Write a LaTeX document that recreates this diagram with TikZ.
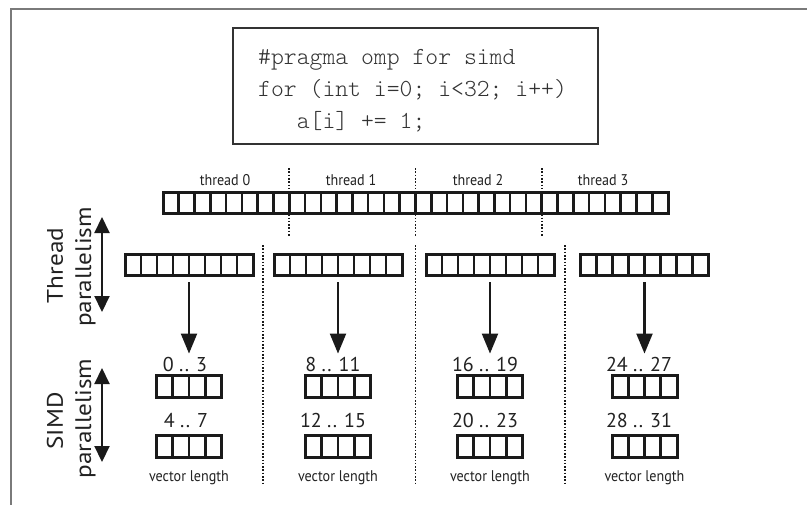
\documentclass[tikz,border=0pt]{standalone}
\usepackage{fontspec}
\setmainfont{PT Sans}
\newfontfamily\labfont[FakeStretch=0.91]{PT Sans}
\newfontfamily\sidefont[FakeStretch=1.12]{PT Sans}
\newfontfamily\codefont{lmmonolt10-regular.otf}
\usetikzlibrary{arrows.meta,calc}
\definecolor{ink}{HTML}{1A1A1A}
\definecolor{txt}{HTML}{222222}
\definecolor{framec}{HTML}{7A7A7A}
\definecolor{codec}{HTML}{333333}
\tikzset{
  arr/.style={draw=ink, line width=3pt, rectangle, inner sep=0pt, outer sep=0pt, minimum height=21pt},
  cellline/.style={draw=ink, line width=2.6pt},
  codebox/.style={draw=codec, line width=1.5pt, rectangle, minimum width=365pt, minimum height=116pt, inner sep=0pt},
  codeline/.style={anchor=base west, inner sep=0pt, text=codec, font=\codefont\fontsize{24.5}{28}\selectfont},
  thlab/.style={anchor=base, inner sep=0pt, text=txt, font=\labfont\fontsize{15.5}{18}\selectfont},
  numlab/.style={anchor=base, inner sep=3pt, text=txt, font=\fontsize{20}{24}\selectfont},
  veclab/.style={anchor=base, inner sep=0pt, text=txt, font=\labfont\fontsize{15.5}{18}\selectfont},
  sidelab/.style={anchor=base, rotate=90, inner sep=0pt, text=txt, font=\sidefont\fontsize{22.5}{26}\selectfont},
  sepline/.style={draw=ink, line width=1.9pt, dash pattern=on 1.6pt off 1.7pt},
  bigarrow/.style={draw=ink, line width=2.1pt, -{Triangle[length=20pt,width=16pt]}},
  dblarrow/.style={draw=ink, line width=2.1pt, {Triangle[length=16pt,width=15pt]}-{Triangle[length=16pt,width=15pt]}},
}
\newcommand\mycells[2]{%
  \pgfmathtruncatemacro\lastk{#2-1}%
  \foreach \k in {1,...,\lastk}{%
    \draw[cellline] ($(#1.south west)!\k/#2!(#1.south east)$) -- ($(#1.north west)!\k/#2!(#1.north east)$);
  }}
\begin{document}
\begin{tikzpicture}[x=1pt,y=-1pt]
\useasboundingbox (0,0) rectangle (807,507);
\fill[white] (0,0) rectangle (807,507);
% frame
\coordinate (fr1) at (807,9);
\coordinate (fr2) at (11,9);
\coordinate (fr3) at (11,505);
\draw[framec, line width=1.2pt] (fr1) -- (fr2) -- (fr3);

% code box
\node[codebox] (code) at (415.5,86) {};
\node[codeline] (c1) at (258,64) {\#pragma omp for simd};
\node[codeline] (c2) at (258,96) {for (int i=0; i<32; i++)};
\node[codeline] (c3) at (258,128) {\ \ \ a[i] += 1;};

% thread labels
\node[thlab] (th0) at (225,185) {thread 0};
\node[thlab] (th1) at (351,185) {thread 1};
\node[thlab] (th2) at (478,185) {thread 2};
\node[thlab] (th3) at (603,185) {thread 3};

% top array
\node[arr, minimum width=505pt] (T) at (415.5,202.5) {};
\mycells{T}{32}

% top dotted separators
\coordinate (d1a) at (289.3,168); \coordinate (d1b) at (289.3,236);
\coordinate (d2a) at (415.5,168); \coordinate (d2b) at (415.5,236);
\coordinate (d3a) at (541.8,168); \coordinate (d3b) at (541.8,236);
\draw[sepline] (d1a) -- (d1b);
\draw[sepline] (d2a) -- (d2b);
\draw[sepline] (d3a) -- (d3b);

% second row arrays
\node[arr, minimum width=128pt] (R1) at (189,264.5) {};
\node[arr, minimum width=128pt] (R2) at (338,264.5) {};
\node[arr, minimum width=128pt] (R3) at (490,264.5) {};
\node[arr, minimum width=128pt] (R4) at (644.5,264.5) {};
\mycells{R1}{8}\mycells{R2}{8}\mycells{R3}{8}\mycells{R4}{8}

% lower dotted separators
\coordinate (e1a) at (263,245); \coordinate (e1b) at (263,483);
\coordinate (e2a) at (415.5,245); \coordinate (e2b) at (415.5,483);
\coordinate (e3a) at (565,245); \coordinate (e3b) at (565,483);
\draw[sepline] (e1a) -- (e1b);
\draw[sepline] (e2a) -- (e2b);
\draw[sepline] (e3a) -- (e3b);

% SIMD labels
\node[numlab] (L1) at (185,371) {0 .. 3};
\node[numlab] (M1) at (186,427) {4 .. 7};
\node[numlab] (L2) at (333,371) {8 .. 11};
\node[numlab] (M2) at (333,427) {12 .. 15};
\node[numlab] (L3) at (485,371) {16 .. 19};
\node[numlab] (M3) at (485,427) {20 .. 23};
\node[numlab] (L4) at (639,371) {24 .. 27};
\node[numlab] (M4) at (639,427) {28 .. 31};

% small arrays
\node[arr, minimum width=65pt, minimum height=22pt] (S1) at (189,386) {};
\node[arr, minimum width=65pt, minimum height=22pt] (S2) at (338,386) {};
\node[arr, minimum width=65pt, minimum height=22pt] (S3) at (490,386) {};
\node[arr, minimum width=65pt, minimum height=22pt] (S4) at (644.5,386) {};
\node[arr, minimum width=65pt, minimum height=22pt] (Q1) at (189,446) {};
\node[arr, minimum width=65pt, minimum height=22pt] (Q2) at (338,446) {};
\node[arr, minimum width=65pt, minimum height=22pt] (Q3) at (490,446) {};
\node[arr, minimum width=65pt, minimum height=22pt] (Q4) at (644.5,446) {};
\mycells{S1}{4}\mycells{S2}{4}\mycells{S3}{4}\mycells{S4}{4}
\mycells{Q1}{4}\mycells{Q2}{4}\mycells{Q3}{4}\mycells{Q4}{4}

% vector length labels
\node[veclab] (V1) at (189,481) {vector length};
\node[veclab] (V2) at (338,481) {vector length};
\node[veclab] (V3) at (490,481) {vector length};
\node[veclab] (V4) at (644.5,481) {vector length};

% down arrows
\draw[bigarrow, shorten <=7pt] (R1.south) -- (R1.south |- L1.north);
\draw[bigarrow, shorten <=7pt] (R2.south) -- (R2.south |- L2.north);
\draw[bigarrow, shorten <=7pt] (R3.south) -- (R3.south |- L3.north);
\draw[bigarrow, shorten <=7pt] (R4.south) -- (R4.south |- L4.north);

% side labels and arrows
\node[sidelab] (tl1) at (63,265.5) {Thread};
\node[sidelab] (tl2) at (91,267) {parallelism};
\node[sidelab] (sl1) at (63,421) {SIMD};
\node[sidelab] (sl2) at (91,418.5) {parallelism};
\coordinate (ta) at (102,217); \coordinate (tb) at (102,312);
\coordinate (sa) at (102,368); \coordinate (sb) at (102,462);
\draw[dblarrow] (ta) -- (tb);
\draw[dblarrow] (sa) -- (sb);
\end{tikzpicture}
\end{document}
